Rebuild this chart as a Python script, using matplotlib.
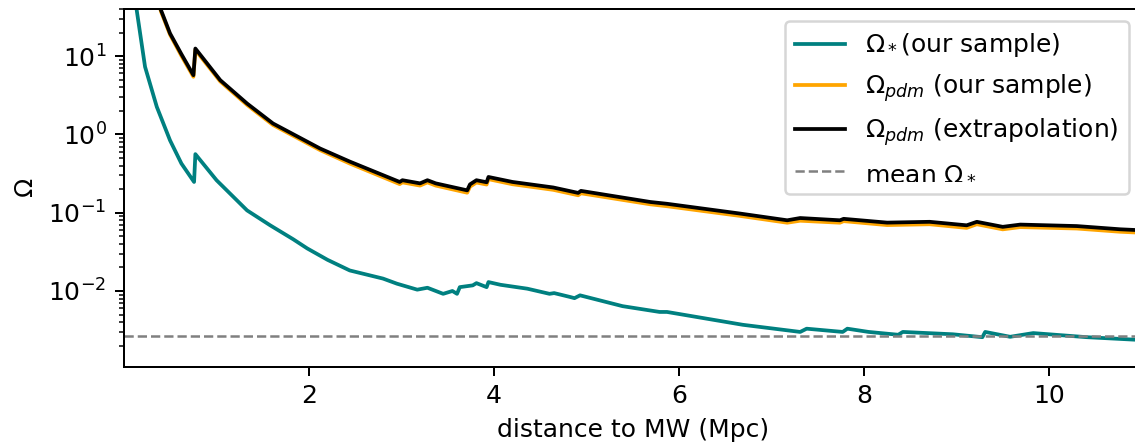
import numpy as np
import matplotlib
matplotlib.use('Agg')
import matplotlib.pyplot as plt

# Omega_* (our sample)
d_star = [0.10, 0.137, 0.227, 0.354, 0.497, 0.62, 0.757, 0.771, 1.0, 1.33,
          1.58, 1.83, 1.98, 2.2, 2.44, 2.8, 2.95, 3.17, 3.28, 3.45,
          3.55, 3.6, 3.63, 3.77, 3.81, 3.92, 3.94, 4.07, 4.36, 4.6,
          4.65, 4.82, 4.87, 4.93, 5.39, 5.79, 5.87, 6.69, 7.31, 7.38,
          7.77, 7.82, 8.05, 8.37, 8.42, 8.96, 9.28, 9.31, 9.58, 9.83,
          10.41, 10.95]
omega_star = [75, 38.5, 7.3, 2.25, 0.84, 0.425, 0.247, 0.56, 0.26, 0.107,
              0.069, 0.0457, 0.035, 0.025, 0.0183, 0.0144, 0.0124, 0.0104, 0.0110, 0.0092,
              0.0100, 0.0092, 0.0112, 0.0118, 0.0126, 0.0112, 0.0130, 0.0120, 0.0107, 0.0092,
              0.0094, 0.0084, 0.0081, 0.0088, 0.0064, 0.0054, 0.0054, 0.0037, 0.0030, 0.0033,
              0.0030, 0.0033, 0.0030, 0.00276, 0.0030, 0.0028, 0.00257, 0.0030, 0.0026, 0.0029,
              0.00257, 0.00238]

# Omega_pdm, our sample and extrapolation
d_pdm = [0.35, 0.40, 0.497, 0.62, 0.75, 0.771, 1.04, 1.33, 1.61, 2.12,
         2.44, 2.98, 3.01, 3.2, 3.28, 3.37, 3.71, 3.74, 3.81, 3.92,
         3.94, 4.2, 4.64, 4.91, 4.94, 5.69, 5.87, 6.66, 7.17, 7.31,
         7.74, 7.78, 8.25, 8.71, 9.11, 9.22, 9.5, 9.69, 10.3, 10.77,
         10.95]
omega_pdm_sample = [58, 37, 18.8, 10.1, 5.45, 12.0, 4.75, 2.38, 1.32, 0.63,
                    0.425, 0.232, 0.244, 0.222, 0.244, 0.222, 0.180, 0.215, 0.243, 0.229,
                    0.268, 0.231, 0.196, 0.167, 0.177, 0.128, 0.121, 0.091, 0.0745, 0.079,
                    0.0745, 0.078, 0.0695, 0.0712, 0.064, 0.0712, 0.0613, 0.0655, 0.0628, 0.0571,
                    0.0558]
omega_pdm_extrap = [60, 38.5, 19.5, 10.6, 5.71, 12.5, 4.93, 2.48, 1.38, 0.66,
                    0.45, 0.247, 0.26, 0.237, 0.26, 0.237, 0.193, 0.23, 0.26, 0.245,
                    0.286, 0.247, 0.21, 0.179, 0.19, 0.137, 0.13, 0.0975, 0.080, 0.0855,
                    0.080, 0.0835, 0.0747, 0.0765, 0.069, 0.0765, 0.066, 0.0705, 0.0675, 0.0614,
                    0.060]

mean_omega_star = 0.0027

fig = plt.figure(figsize=(1135 / 180, 443 / 180), dpi=180)
ax = fig.add_axes([0.1093, 0.1716, 0.8964, 0.8081])

ax.plot(d_star, omega_star, color='teal', label=r'$\Omega_*$(our sample)')
ax.plot(d_pdm, omega_pdm_sample, color='orange', label=r'$\Omega_{pdm}$ (our sample)')
ax.plot(d_pdm, omega_pdm_extrap, color='black', label=r'$\Omega_{pdm}$ (extrapolation)')
ax.axhline(mean_omega_star, color='gray', ls='--', lw=1, label=r'mean $\Omega_*$')

ax.set_yscale('log')
ax.set_xlim(0.0, 11.0)
ax.set_ylim(1.07e-3, 40)
ax.set_xticks([2, 4, 6, 8, 10])
ax.set_xlabel('distance to MW (Mpc)')
ax.set_ylabel(r'$\Omega$')
ax.legend(loc='upper right')

fig.savefig('out.png', dpi=180)
